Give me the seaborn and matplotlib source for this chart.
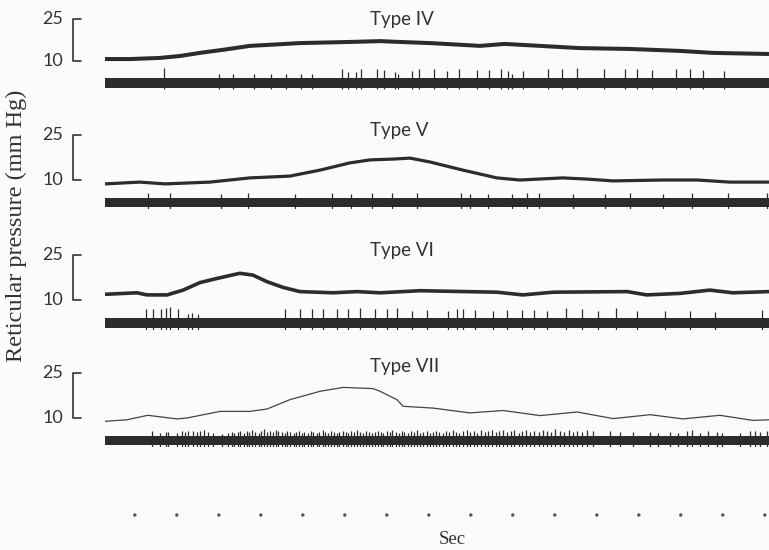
import matplotlib
matplotlib.use("Agg")
import matplotlib.pyplot as plt
import seaborn as sns
import pandas as pd
from matplotlib.transforms import blended_transform_factory

# ---------------- data (time in s, pressure in mm Hg) ----------------
iv_time = [0.00, 0.60, 1.31, 1.79, 2.26, 2.86, 3.45, 4.05, 4.64, 5.83, 6.55,
           7.02, 7.74, 8.93, 9.52, 10.36, 11.31, 12.50, 13.69, 14.48, 15.81]
iv_pressure = [10.7, 10.7, 11.1, 11.8, 12.9, 14.1, 15.4, 15.9, 16.4, 16.8, 17.1,
               16.8, 16.4, 15.4, 16.1, 15.4, 14.6, 14.3, 13.6, 12.9, 12.5]

v_time = [0.00, 0.83, 1.43, 2.50, 3.45, 4.40, 5.12, 5.83, 6.31, 6.90, 7.26,
          7.74, 8.52, 9.33, 9.88, 10.90, 11.48, 12.10, 13.29, 14.10, 14.88, 15.81]
v_pressure = [8.7, 9.3, 8.7, 9.3, 10.7, 11.3, 13.3, 15.7, 16.7, 17.0, 17.3,
              16.0, 13.3, 10.7, 10.0, 10.7, 10.3, 9.7, 10.0, 10.0, 9.3, 9.3]

vi_time = [0.00, 0.76, 1.00, 1.48, 1.86, 2.26, 2.67, 3.21, 3.52, 3.86, 4.24, 4.64,
           5.43, 6.00, 6.55, 7.50, 9.33, 9.95, 10.67, 12.43, 12.90, 13.69, 14.40,
           14.95, 15.81]
vi_pressure = [11.9, 12.4, 11.7, 11.7, 13.3, 15.8, 17.2, 18.9, 18.3, 16.1, 14.2, 12.8,
               12.4, 12.8, 12.4, 13.1, 12.6, 11.7, 12.6, 12.8, 11.7, 12.2, 13.3,
               12.4, 12.8]

vii_time = [0.00, 0.52, 1.02, 1.71, 1.95, 2.74, 3.45, 3.86, 4.40, 5.12, 5.67, 6.38,
            6.55, 6.95, 7.10, 7.81, 8.69, 9.48, 10.36, 11.24, 12.10, 12.98, 13.76,
            14.64, 15.43, 15.81]
vii_pressure = [8.9, 9.4, 10.9, 9.7, 10.0, 12.2, 12.2, 13.0, 16.1, 18.9, 20.2, 19.8,
                18.9, 16.1, 13.9, 13.3, 11.7, 12.5, 10.8, 12.0, 9.8, 11.1, 9.7,
                10.9, 9.2, 9.4]

# spikes: (time s, relative spike height)
iv_spikes = [(1.40, 10), (2.71, 4), (3.05, 4), (3.55, 4), (3.95, 4), (4.31, 4), (4.67, 4),
             (4.93, 4), (5.64, 9), (5.79, 6), (5.98, 6), (6.10, 9), (6.48, 9), (6.64, 8),
             (6.90, 6), (6.98, 4), (7.31, 7), (7.48, 9), (7.83, 9), (8.14, 7), (8.43, 9),
             (8.86, 8), (9.14, 8), (9.43, 9), (9.60, 7), (9.69, 4), (9.95, 7), (10.55, 9),
             (10.88, 9), (11.24, 10), (11.88, 9), (12.38, 9), (12.67, 9), (13.02, 8),
             (13.60, 9), (13.93, 9), (14.24, 8), (14.74, 7)]

v_spikes = [(1.02, 5), (1.55, 5), (2.76, 4), (3.40, 5), (4.52, 4), (5.40, 5), (5.86, 4),
            (6.36, 5), (6.83, 5), (7.43, 5), (8.48, 5), (8.69, 4), (9.12, 4), (9.69, 4),
            (10.05, 5), (10.33, 5), (11.14, 4), (11.90, 4), (12.50, 5), (13.29, 4),
            (13.98, 5), (14.83, 5), (15.76, 5)]

vi_spikes = [(0.98, 9), (1.14, 9), (1.33, 9), (1.45, 10), (1.55, 11), (1.74, 9), (1.98, 4),
             (2.07, 5), (2.21, 4), (4.29, 9), (4.64, 9), (4.93, 9), (5.19, 9), (5.52, 9),
             (5.79, 9), (6.07, 10), (6.43, 9), (6.71, 9), (6.95, 10), (7.31, 7), (7.67, 8),
             (8.17, 7), (8.38, 9), (8.52, 9), (8.81, 8), (9.24, 7), (9.57, 8), (9.93, 8),
             (10.21, 8), (10.52, 7), (10.98, 10), (11.36, 9), (11.74, 7), (12.17, 10),
             (12.67, 7), (13.33, 7), (13.93, 7), (14.52, 6), (15.64, 8)]

vii_spikes = [
    (1.12, 5), (1.31, 3), (1.45, 4), (1.50, 4), (1.71, 3), (1.83, 5), (1.90, 4), (1.98, 5),
    (2.10, 5), (2.19, 4), (2.26, 5), (2.36, 6), (2.45, 4), (2.57, 3), (2.79, 2), (2.93, 3),
    (3.02, 4), (3.08, 3), (3.17, 4), (3.22, 5), (3.30, 3), (3.38, 5), (3.43, 4), (3.51, 6),
    (3.58, 4), (3.66, 3), (3.71, 5), (3.79, 7), (3.86, 4), (3.93, 5), (3.99, 4), (4.07, 6),
    (4.12, 5), (4.21, 4), (4.28, 3), (4.34, 5), (4.40, 4), (4.49, 3), (4.55, 4), (4.62, 5),
    (4.70, 3), (4.75, 4), (4.83, 3), (4.90, 5), (4.96, 4), (5.04, 3), (5.10, 4), (5.18, 6),
    (5.24, 4), (5.31, 3), (5.39, 5), (5.45, 4), (5.52, 3), (5.58, 4), (5.66, 5), (5.73, 4),
    (5.79, 3), (5.86, 5), (5.94, 4), (6.00, 6), (6.07, 4), (6.15, 3), (6.21, 5), (6.28, 4),
    (6.36, 3), (6.42, 4), (6.50, 5), (6.57, 4), (6.63, 3), (6.71, 5), (6.78, 4), (6.84, 6),
    (6.92, 4), (6.99, 3), (7.07, 5), (7.13, 4), (7.21, 3), (7.28, 5), (7.35, 4), (7.43, 6),
    (7.50, 3), (7.58, 4), (7.66, 5), (7.73, 3), (7.80, 4), (7.89, 5), (7.96, 4), (8.05, 3),
    (8.12, 5), (8.20, 4), (8.29, 6), (8.36, 4), (8.44, 3), (8.53, 5), (8.61, 6), (8.70, 4),
    (8.78, 5), (8.86, 3), (8.95, 6), (9.04, 4), (9.12, 5), (9.21, 6), (9.30, 4), (9.39, 5),
    (9.47, 6), (9.57, 4), (9.66, 5), (9.75, 6), (9.85, 3), (9.94, 5), (10.03, 6), (10.13, 4),
    (10.22, 5), (10.33, 4), (10.42, 6), (10.52, 5), (10.63, 4), (10.72, 7), (10.83, 5),
    (10.93, 4), (11.04, 6), (11.14, 4), (11.25, 5), (11.36, 4), (11.47, 6),
    (11.62, 5), (12.02, 5), (12.26, 4), (12.57, 4), (12.98, 4), (13.17, 3), (13.45, 4),
    (13.64, 3), (13.86, 5), (13.98, 6), (14.17, 3), (14.36, 5), (14.57, 4), (14.69, 3),
    (15.12, 3), (15.36, 5), (15.48, 5), (15.60, 4), (15.76, 5)]

panel_titles = ["Type IV", "Type V", "Type VI", "Type VII"]
scale_ticks = [10, 25]
second_marks = [0.71, 1.71, 2.71, 3.71, 4.71, 5.71, 6.71, 7.71, 8.71, 9.71, 10.71,
                11.71, 12.71, 13.71, 14.71, 15.71]
T_END = 15.81

# ---------------- style / layout ----------------
W, H = 769, 550
BG = "#fbfbfb"
INK = "#2c2c2c"
TXT = "#333333"

sns.set_theme(style="white")
plt.rcParams["font.family"] = ["Lato", "DejaVu Sans"]


def px_rect(l, t, r, b):
    return [l / W, 1 - b / H, (r - l) / W, (b - t) / H]


layout = [
    # y of 25, y of 10, bar top, bar bottom, title baseline, line width
    dict(y25=19, y10=61, bar=(78, 88), base=25, lw=2.9, col=INK),
    dict(y25=135, y10=180, bar=(198, 207), base=136, lw=2.3, col=INK),
    dict(y25=255, y10=300, bar=(318, 328), base=256, lw=2.6, col=INK),
    dict(y25=373, y10=418, bar=(436, 445), base=372, lw=0.9, col="#444444"),
]
traces = [(iv_time, iv_pressure, iv_spikes), (v_time, v_pressure, v_spikes),
          (vi_time, vi_pressure, vi_spikes), (vii_time, vii_pressure, vii_spikes)]

fig = plt.figure(figsize=(W / 100, H / 100), dpi=100, facecolor=BG)

L, R = 105, 769
for title, (tt, pp, spk), lay in zip(panel_titles, traces, layout):
    # pressure trace
    axp = fig.add_axes(px_rect(L, lay["y25"], R, lay["y10"]))
    axp.set_xlim(0, T_END)
    axp.set_ylim(min(scale_ticks), max(scale_ticks))
    axp.axis("off")
    df = pd.DataFrame({"t": tt, "p": pp})
    sns.lineplot(data=df, x="t", y="p", ax=axp, color=lay["col"], linewidth=lay["lw"],
                 clip_on=False, solid_capstyle="butt", solid_joinstyle="round")
    trans = blended_transform_factory(axp.transAxes, axp.transData)
    bx1 = (73 - L) / (R - L)
    bx2 = (81 - L) / (R - L)
    axp.plot([bx2, bx1, bx1, bx2], [25, 25, 10, 10], transform=trans,
             clip_on=False, color=TXT, linewidth=1.2)
    for v in scale_ticks:
        axp.text((63 - L) / (R - L), v, str(v), transform=trans, ha="right",
                 va="center", fontsize=13, color=TXT)
    fig.text(370 / W, 1 - lay["base"] / H, title, ha="left", va="baseline",
             fontsize=13.5, color=TXT)

    # spike train
    bt, bb = lay["bar"]
    bh = bb - bt
    axs = fig.add_axes(px_rect(L, bt - 14, R, bb + 2))
    axs.set_xlim(0, T_END)
    axs.set_ylim(-bh - 2, 14)
    axs.axis("off")
    axs.axhspan(-bh, 0, color=INK, linewidth=0)
    st = [s[0] for s in spk]
    sh = [s[1] for s in spk]
    axs.vlines(st, -bh - 1.5, sh, color=INK, linewidth=0.9)

# time marks
axd = fig.add_axes(px_rect(L, 505, R, 525))
axd.set_xlim(0, T_END)
axd.set_ylim(-1, 1)
axd.axis("off")
sns.scatterplot(x=second_marks, y=[0] * len(second_marks), ax=axd, s=6,
                color="#555555", edgecolor="none", clip_on=False)

fig.text(452 / W, 1 - 540 / H, "Sec", ha="center", va="center", fontsize=13.5,
         family=["Liberation Serif", "DejaVu Serif"], color=TXT)
fig.text(16 / W, 1 - 226 / H, "Reticular pressure (mm Hg)", rotation=90,
         ha="center", va="center", fontsize=17.5,
         family=["Liberation Serif", "DejaVu Serif"], color=TXT)

fig.savefig("out.png", dpi=100, facecolor=BG)
